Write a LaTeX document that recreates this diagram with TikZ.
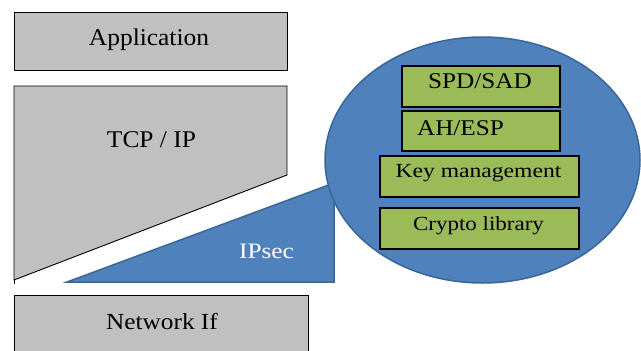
\documentclass[tikz,border=0pt]{standalone}
\usepackage{fontspec}
\usepackage{graphicx}
\setmainfont{Liberation Serif}
\definecolor{layergray}{HTML}{C0C0C0}
\definecolor{ipblue}{HTML}{4F81BD}
\definecolor{ipbluedark}{HTML}{3A6796}
\definecolor{modgreen}{HTML}{9BBB59}
\newcommand{\wtxt}[3]{\fontsize{#1}{#1}\selectfont\scalebox{#2}[1]{#3}}
\tikzset{
  graybox/.style={fill=layergray, draw=black, line width=0.9pt},
  greenbox/.style={fill=modgreen, draw=black, line width=1.2pt},
  bluearea/.style={fill=ipblue, draw=ipbluedark, line width=1.5pt},
  lbl/.style={anchor=base, inner sep=0pt, text=black},
}
\begin{document}
\begin{tikzpicture}[x=1pt,y=-1pt]
\useasboundingbox (0,0) rectangle (641,351);
% Application layer
\draw[graybox] (14,12) rectangle (287,70);
\node[lbl] (app) at (149,45) {\wtxt{24}{1.06}{Application}};
% TCP/IP layer
\draw[graybox] (14,86) -- (287,86) -- (287,175) -- (14,280) -- cycle;
\draw[black, line width=0.9pt] (14,280) -- (14,284);
\node[lbl] (tcp) at (151.5,147) {\wtxt{24}{1.06}{TCP / IP}};
% Network If layer
\fill[layergray] (14,295) rectangle (308,352);
\draw[black, line width=0.9pt] (14,352) -- (14,295) -- (308,295) -- (308,352);
\node[lbl] (netif) at (162,329) {\wtxt{23}{1.1}{Network If}};
% IPsec wedge
\draw[bluearea, line join=miter] (67,282) -- (334,183) -- (334,282) -- cycle;
\node[lbl, text=white] (ipsec) at (266.5,258) {\wtxt{22}{1.15}{IPsec}};
% IPsec ellipse
\draw[bluearea] (482.5,160) ellipse [x radius=157.5, y radius=123];
% Modules
\draw[greenbox] (402,66) rectangle (560,107);
\node[lbl] (spd) at (480,88) {\wtxt{22.5}{1.12}{SPD/SAD}};
\draw[greenbox] (402,111) rectangle (560,151);
\node[lbl] (ah) at (460.5,135) {\wtxt{22.5}{1.12}{AH/ESP}};
\draw[greenbox] (380,156) rectangle (579,197);
\node[lbl] (key) at (478.5,177) {\wtxt{20}{1.18}{Key management}};
\draw[greenbox] (380,208) rectangle (579,249);
\node[lbl] (crypto) at (478.5,230) {\wtxt{20}{1.15}{Crypto library}};
\end{tikzpicture}
\end{document}
